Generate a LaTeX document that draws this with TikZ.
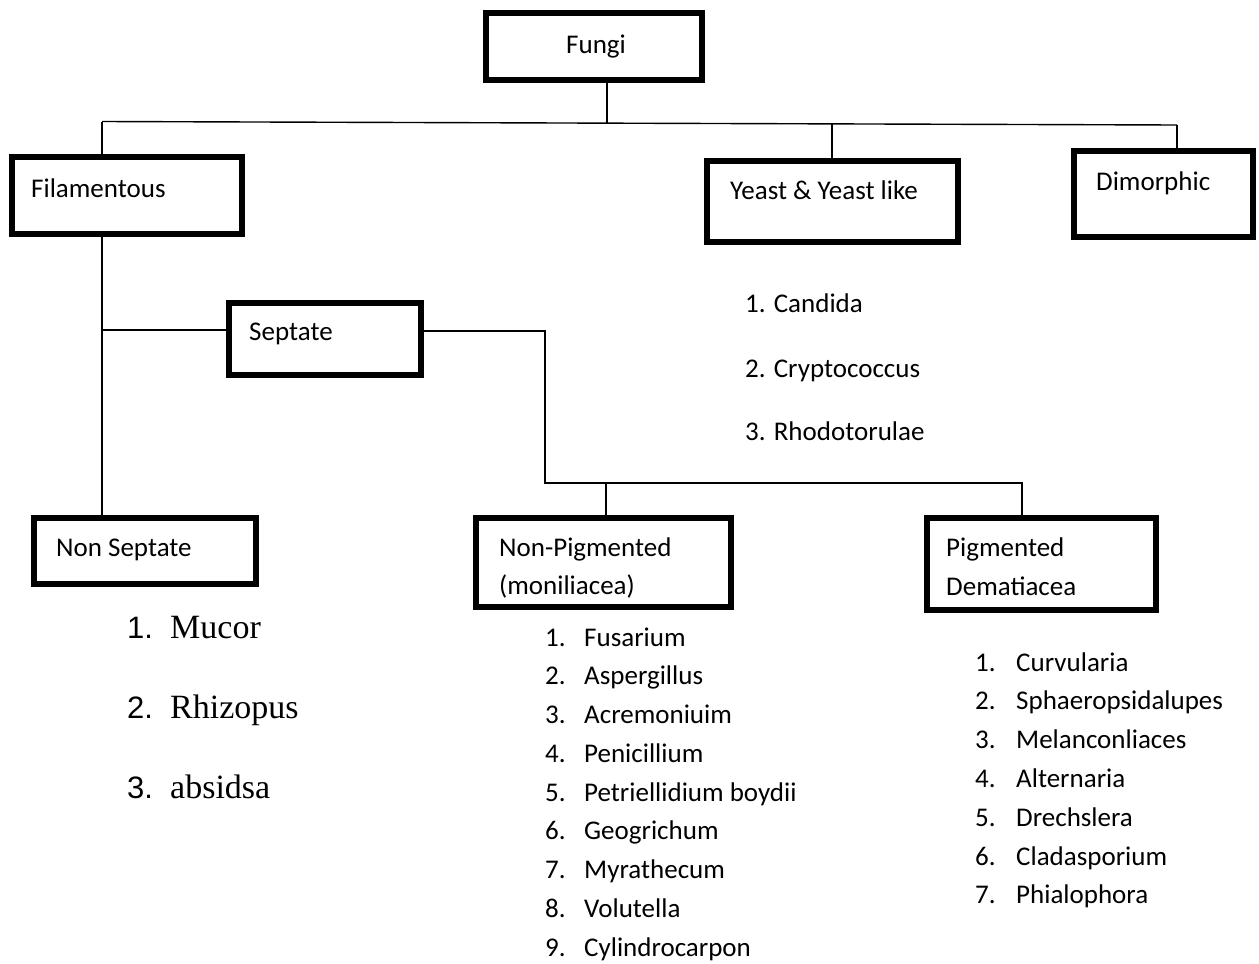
\documentclass[tikz,border=0pt]{standalone}
\usepackage{fontspec}
\setmainfont{Carlito}
\newfontfamily\seriffont{Liberation Serif}
\newfontfamily\arialfont{Liberation Sans}
\begin{document}
\begin{tikzpicture}[x=1pt,y=-1pt,
  box/.style={draw, line width=6pt, inner sep=0pt, rectangle},
  conn/.style={line width=1.4pt},
  lbl/.style={anchor=base west, inner sep=0pt, font=\fontsize{27}{32}\selectfont},
  bignum/.style={anchor=base west, inner sep=0pt, font=\arialfont\fontsize{31}{36}\selectfont},
  bigname/.style={anchor=base west, inner sep=0pt, font=\seriffont\fontsize{34}{40}\selectfont}]
\useasboundingbox (0,0) rectangle (1259,964);

% boxes
\node[box, minimum width=216pt, minimum height=67pt] (fungi) at (594,46.5) {};
\node[box, minimum width=230pt, minimum height=77pt] (fil) at (127,195.5) {};
\node[box, minimum width=251pt, minimum height=81pt] (yeast) at (832.5,201.5) {};
\node[box, minimum width=179pt, minimum height=86pt] (dimo) at (1163.5,194) {};
\node[box, minimum width=192pt, minimum height=72pt] (sept) at (325,339) {};
\node[box, minimum width=222pt, minimum height=66pt] (nonsept) at (145,551) {};
\node[box, minimum width=255pt, minimum height=89pt] (nonpig) at (603.5,562.5) {};
\node[box, minimum width=229pt, minimum height=92pt] (pig) at (1041.5,564) {};

% box texts
\node[lbl] (tfungi) at (566,53) {Fungi};
\node[lbl] (tfil) at (31,197) {Filamentous};
\node[lbl] (tyeast) at (730,199) {Yeast \& Yeast like};
\node[lbl] (tdimo) at (1096,190) {Dimorphic};
\node[lbl] (tsept) at (249,340) {Septate};
\node[lbl] (tnonsept) at (56,556) {Non Septate};
\node[lbl] (tnonpiga) at (499,556) {Non-Pigmented};
\node[lbl] (tnonpigb) at (499,594) {(moniliacea)};
\node[lbl] (tpiga) at (946,556) {Pigmented};
\node[lbl] (tpigb) at (946,595) {Dematiacea};

% connectors
\coordinate (fstem) at (607,122.5);
\coordinate (hl) at (102,121.5);
\coordinate (hr) at (1177,125);
\coordinate (hy) at (832,124);
\coordinate (sj) at (102,330);
\coordinate (sr) at (545,331);
\coordinate (bl) at (545,483);
\coordinate (bm) at (606,483);
\coordinate (br) at (1022,483);
\draw[conn] (fstem |- fungi.south) -- (fstem);
\draw[conn] (hl) -- (hr);
\draw[conn] (hl) -- (hl |- fil.north);
\draw[conn] (hy) -- (hy |- yeast.north);
\draw[conn] (hr) -- (hr |- dimo.north);
\draw[conn] (hl |- fil.south) -- (hl |- nonsept.north);
\draw[conn] (sj) -- (sj -| sept.west);
\draw[conn] (sept.east |- sr) -- (sr) -- (bl) -- (br) -- (br |- pig.north);
\draw[conn] (bm) -- (bm |- nonpig.north);

% yeast list
\node[lbl] (y1) at (745,312) {1. Candida};
\node[lbl] (y2) at (745,377) {2. Cryptococcus};
\node[lbl] (y3) at (745,440) {3. Rhodotorulae};

% non septate list
\foreach \i/\nm [evaluate=\i as \yy using 638+80*(\i-1)] in {1/Mucor,2/Rhizopus,3/absidsa}{
  \node[bignum] (nsn\i) at (127,\yy) {\i.};
  \node[bigname] (nst\i) at (170,\yy) {\nm};
}

% non-pigmented list
\foreach \i/\nm [evaluate=\i as \yy using 646+38.75*(\i-1)] in {1/Fusarium,2/Aspergillus,3/Acremoniuim,4/Penicillium,5/Petriellidium boydii,6/Geogrichum,7/Myrathecum,8/Volutella,9/Cylindrocarpon}{
  \node[lbl] (npn\i) at (545,\yy) {\i.};
  \node[lbl] (npt\i) at (584,\yy) {\nm};
}

% pigmented list
\foreach \i/\nm [evaluate=\i as \yy using 671+38.8*(\i-1)] in {1/Curvularia,2/Sphaeropsidalupes,3/Melanconliaces,4/Alternaria,5/Drechslera,6/Cladasporium,7/Phialophora}{
  \node[lbl] (pn\i) at (975,\yy) {\i.};
  \node[lbl] (pt\i) at (1016,\yy) {\nm};
}
\end{tikzpicture}
\end{document}
